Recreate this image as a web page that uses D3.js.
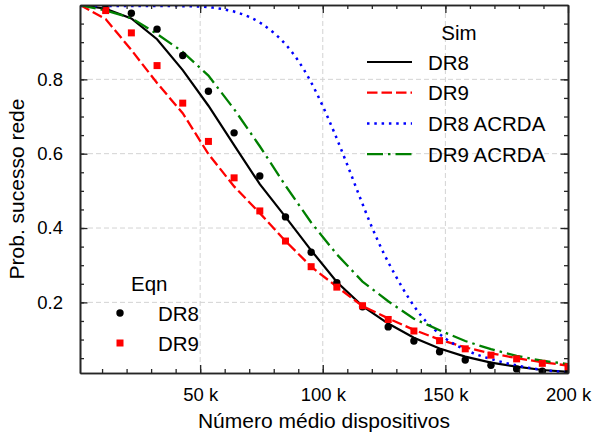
<!DOCTYPE html>
<html>
<head>
<meta charset="utf-8">
<script src="https://cdn.jsdelivr.net/npm/d3@7"></script>
<style>
  body { margin: 0; background: #fff; }
  svg { display: block; font-family: "Liberation Sans", Arial, sans-serif; }
  .axis path, .axis line { stroke: #262626; }
  .axis path { stroke-width: 1.6; }
  .axis line { stroke-width: 1.3; }
  .axis text { fill: #000; font-size: 18.5px; }
  .grid line { stroke: #d3d3d3; stroke-width: 1; stroke-dasharray: 5,3; }
  .leg { font-size: 20.5px; fill: #000; }
</style>
</head>
<body>
<svg width="597" height="436"></svg>
<script>
'use strict';

// x values (number of devices)
var xEqn = [11470, 21950, 32420, 42890, 53370, 63840, 74320, 84790, 95260, 105740,
            116210, 126680, 137160, 147630, 158100, 168580, 179050, 189530, 200000];
var xSim = [1000].concat(xEqn);

// analytical (Eqn) points
var eqnDR8 = [0.99, 0.978, 0.935, 0.864, 0.768, 0.656, 0.54, 0.43, 0.335, 0.253,
              0.188, 0.134, 0.096, 0.067, 0.045, 0.031, 0.021, 0.015, 0.011];
var eqnDR9 = [0.985, 0.925, 0.837, 0.736, 0.633, 0.535, 0.446, 0.365, 0.296, 0.241,
              0.191, 0.154, 0.123, 0.097, 0.075, 0.058, 0.048, 0.036, 0.027];

// simulation curves
var simDR8 = [1.0, 0.99, 0.964, 0.908, 0.825, 0.729, 0.623, 0.518, 0.43, 0.34,
              0.255, 0.19, 0.143, 0.105, 0.076, 0.054, 0.038, 0.027, 0.018, 0.013];
var simDR9 = [1.0, 0.962, 0.879, 0.79, 0.709, 0.599, 0.512, 0.44, 0.365, 0.296,
              0.242, 0.19, 0.157, 0.126, 0.1, 0.079, 0.063, 0.05, 0.039, 0.03];
var simDR9acrda = [1.0, 0.985, 0.965, 0.922, 0.874, 0.81, 0.72, 0.62, 0.514, 0.415,
                   0.329, 0.256, 0.203, 0.156, 0.125, 0.096, 0.074, 0.056, 0.043, 0.034];

var xAcrda8 = [1000, 40000, 50000, 55000, 60000, 65000, 70000, 75000, 80000, 85000, 90000,
               95000, 100000, 105000, 110000, 115000, 120000, 125000, 130000, 135000,
               140000, 145000, 150000, 160000, 170000, 180000, 190000, 200000];
var simDR8acrda = [0.997, 0.997, 0.996, 0.993, 0.988, 0.98, 0.968, 0.95, 0.925, 0.893, 0.85,
                   0.795, 0.728, 0.652, 0.57, 0.485, 0.403, 0.33, 0.268, 0.212,
                   0.165, 0.13, 0.103, 0.067, 0.045, 0.029, 0.018, 0.012];

var xTicks = [50000, 100000, 150000, 200000];
var yTicks = [0.2, 0.4, 0.6, 0.8];

var svg = d3.select('svg');
var mLeft = 80, mRight = 568, mTop = 5, mBottom = 373;

var x = d3.scaleLinear().domain([1000, 200000]).range([mLeft, mRight]);
var y = d3.scaleLinear().domain([0.01, 1.0]).range([mBottom, mTop]);

svg.append('defs').append('clipPath').attr('id', 'plot')
    .append('rect').attr('x', mLeft).attr('y', mTop)
    .attr('width', mRight - mLeft).attr('height', mBottom - mTop);

// grid
var grid = svg.append('g').attr('class', 'grid');
grid.selectAll('.gx').data(xTicks.slice(0, 3)).enter().append('line')
    .attr('x1', function(d) { return x(d); }).attr('x2', function(d) { return x(d); })
    .attr('y1', mTop).attr('y2', mBottom);
grid.selectAll('.gy').data(yTicks).enter().append('line')
    .attr('y1', function(d) { return y(d); }).attr('y2', function(d) { return y(d); })
    .attr('x1', mLeft).attr('x2', mRight);

// curves
var plot = svg.append('g').attr('clip-path', 'url(#plot)');
function lineOf(xs, curve) {
    return d3.line()
        .x(function(d, i) { return x(xs[i]); })
        .y(function(d) { return y(d); })
        .curve(curve || d3.curveLinear);
}
var curves = [
    {vals: simDR8, xs: xSim, color: '#000000', dash: null, w: 2.2},
    {vals: simDR9, xs: xSim, color: '#ff0000', dash: '10.5,4', w: 2.3},
    {vals: simDR8acrda, xs: xAcrda8, color: '#0000ff', dash: '2.5,4.8', w: 2.5, curve: d3.curveMonotoneX},
    {vals: simDR9acrda, xs: xSim, color: '#008000', dash: '16,5,2.5,5', w: 2.3}
];
curves.forEach(function(c) {
    plot.append('path')
        .attr('d', lineOf(c.xs, c.curve)(c.vals))
        .attr('fill', 'none')
        .attr('stroke', c.color)
        .attr('stroke-width', c.w)
        .attr('stroke-dasharray', c.dash);
});

// Eqn markers
plot.selectAll('.dot').data(eqnDR8).enter().append('circle')
    .attr('cx', function(d, i) { return x(xEqn[i]); })
    .attr('cy', function(d) { return y(d); })
    .attr('r', 3.7).attr('fill', '#000');
plot.selectAll('.sq').data(eqnDR9).enter().append('rect')
    .attr('x', function(d, i) { return x(xEqn[i]) - 3.5; })
    .attr('y', function(d) { return y(d) - 3.5; })
    .attr('width', 7).attr('height', 7).attr('fill', '#ff0000');

// axes, ticks pointing inward
var fmt = function(d) { return d / 1000 + ' k'; };
var xMinor = d3.range(10000, 200000, 10000);
var yMinor = d3.range(0.05, 1.0, 0.05);

svg.append('g').attr('class', 'axis')
    .attr('transform', 'translate(0,' + mBottom + ')')
    .call(d3.axisBottom(x).tickValues(xMinor).tickSize(-4).tickSizeOuter(0).tickFormat(''));
svg.append('g').attr('class', 'axis')
    .attr('transform', 'translate(0,' + mBottom + ')')
    .call(d3.axisBottom(x).tickValues(xTicks).tickSize(-8).tickSizeOuter(0)
        .tickPadding(15).tickFormat(fmt));
svg.append('g').attr('class', 'axis')
    .attr('transform', 'translate(0,' + mTop + ')')
    .call(d3.axisTop(x).tickValues(xMinor).tickSize(-4).tickSizeOuter(0).tickFormat(''));
svg.append('g').attr('class', 'axis')
    .attr('transform', 'translate(0,' + mTop + ')')
    .call(d3.axisTop(x).tickValues(xTicks).tickSize(-8).tickSizeOuter(0).tickFormat(''));

svg.append('g').attr('class', 'axis')
    .attr('transform', 'translate(' + mLeft + ',0)')
    .call(d3.axisLeft(y).tickValues(yMinor).tickSize(-4).tickSizeOuter(0).tickFormat(''));
svg.append('g').attr('class', 'axis')
    .attr('transform', 'translate(' + mLeft + ',0)')
    .call(d3.axisLeft(y).tickValues(yTicks).tickSize(-7.5).tickSizeOuter(0)
        .tickPadding(17).tickFormat(d3.format('.1f')));
svg.append('g').attr('class', 'axis')
    .attr('transform', 'translate(' + mRight + ',0)')
    .call(d3.axisRight(y).tickValues(yMinor).tickSize(-4).tickSizeOuter(0).tickFormat(''));
svg.append('g').attr('class', 'axis')
    .attr('transform', 'translate(' + mRight + ',0)')
    .call(d3.axisRight(y).tickValues(yTicks).tickSize(-7.5).tickSizeOuter(0).tickFormat(''));

// axis titles
svg.append('text')
    .attr('x', (mLeft + mRight) / 2).attr('y', 428)
    .attr('text-anchor', 'middle').attr('font-size', 21)
    .text('Número médio dispositivos');
svg.append('text')
    .attr('transform', 'translate(24,' + (mTop + mBottom) / 2 + ') rotate(-90)')
    .attr('text-anchor', 'middle').attr('font-size', 21)
    .text('Prob. sucesso rede');

// Sim legend
var simNames = ['DR8', 'DR9', 'DR8 ACRDA', 'DR9 ACRDA'];
var leg = svg.append('g');
leg.append('text').attr('class', 'leg')
    .attr('x', 459).attr('y', 40).attr('text-anchor', 'middle').text('Sim');
simNames.forEach(function(name, i) {
    var yy = 62 + i * 30.7;
    leg.append('line')
        .attr('x1', 367).attr('x2', 412).attr('y1', yy).attr('y2', yy)
        .attr('stroke', curves[i].color)
        .attr('stroke-width', curves[i].w)
        .attr('stroke-dasharray', curves[i].dash);
    leg.append('text').attr('class', 'leg')
        .attr('x', 428).attr('y', yy + 7.5).text(name);
});

// Eqn legend
var eqnNames = ['DR8', 'DR9'];
var leg2 = svg.append('g');
leg2.append('text').attr('class', 'leg')
    .attr('x', 131).attr('y', 291).text('Eqn');
leg2.append('circle').attr('cx', 120).attr('cy', 313).attr('r', 3.7).attr('fill', '#000');
leg2.append('rect').attr('x', 116.5).attr('y', 339.5).attr('width', 7).attr('height', 7)
    .attr('fill', '#ff0000');
eqnNames.forEach(function(name, i) {
    leg2.append('text').attr('class', 'leg')
        .attr('x', 158).attr('y', 313 + i * 30 + 7.5).text(name);
});
</script>
</body>
</html>
